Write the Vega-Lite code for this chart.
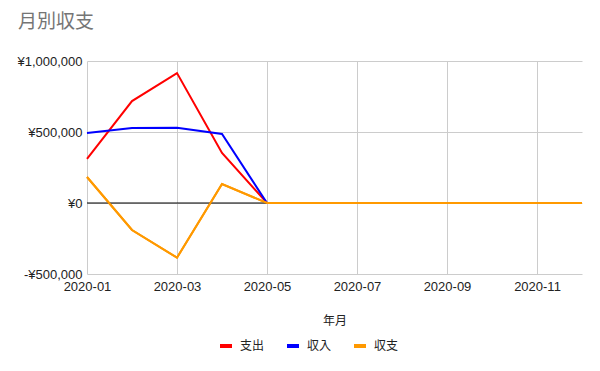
{
  "$schema": "https://vega.github.io/schema/vega-lite/v6.json",
  "autosize": {"type": "none"},
  "width": 495,
  "height": 213,
  "padding": {"left": 87, "top": 61, "right": 18, "bottom": 97},
  "background": "white",
  "config": {
    "view": {"stroke": null},
    "font": "Liberation Sans"
  },
  "title": {
    "text": "月別収支",
    "anchor": "start",
    "frame": "group",
    "dx": -69,
    "offset": 23,
    "font": "Noto Sans CJK JP",
    "fontSize": 19,
    "fontWeight": "normal",
    "color": "#757575"
  },
  "datasets": {
    "main": [
      {"month": "2020-01", "series": "支出", "value": 310000},
      {"month": "2020-02", "series": "支出", "value": 718000},
      {"month": "2020-03", "series": "支出", "value": 915000},
      {"month": "2020-04", "series": "支出", "value": 352000},
      {"month": "2020-05", "series": "支出", "value": 0},
      {"month": "2020-06", "series": "支出", "value": 0},
      {"month": "2020-07", "series": "支出", "value": 0},
      {"month": "2020-08", "series": "支出", "value": 0},
      {"month": "2020-09", "series": "支出", "value": 0},
      {"month": "2020-10", "series": "支出", "value": 0},
      {"month": "2020-11", "series": "支出", "value": 0},
      {"month": "2020-12", "series": "支出", "value": 0},
      {"month": "2020-01", "series": "収入", "value": 493000},
      {"month": "2020-02", "series": "収入", "value": 528000},
      {"month": "2020-03", "series": "収入", "value": 530000},
      {"month": "2020-04", "series": "収入", "value": 486000},
      {"month": "2020-05", "series": "収入", "value": 0},
      {"month": "2020-06", "series": "収入", "value": 0},
      {"month": "2020-07", "series": "収入", "value": 0},
      {"month": "2020-08", "series": "収入", "value": 0},
      {"month": "2020-09", "series": "収入", "value": 0},
      {"month": "2020-10", "series": "収入", "value": 0},
      {"month": "2020-11", "series": "収入", "value": 0},
      {"month": "2020-12", "series": "収入", "value": 0},
      {"month": "2020-01", "series": "収支", "value": 183000},
      {"month": "2020-02", "series": "収支", "value": -190000},
      {"month": "2020-03", "series": "収支", "value": -385000},
      {"month": "2020-04", "series": "収支", "value": 134000},
      {"month": "2020-05", "series": "収支", "value": 0},
      {"month": "2020-06", "series": "収支", "value": 0},
      {"month": "2020-07", "series": "収支", "value": 0},
      {"month": "2020-08", "series": "収支", "value": 0},
      {"month": "2020-09", "series": "収支", "value": 0},
      {"month": "2020-10", "series": "収支", "value": 0},
      {"month": "2020-11", "series": "収支", "value": 0},
      {"month": "2020-12", "series": "収支", "value": 0}
    ],
    "zero": [{"y": 0}]
  },
  "layer": [
    {
      "data": {"name": "main"},
      "mark": {"type": "line", "strokeWidth": 2, "interpolate": "linear"},
      "encoding": {
        "x": {
          "field": "month",
          "type": "ordinal",
          "sort": null,
          "scale": {"type": "point", "padding": 0},
          "axis": {
            "title": "年月",
            "titleFont": "Noto Sans CJK JP",
            "titleFontSize": 12,
            "titleFontWeight": "normal",
            "titleColor": "#222222",
            "titlePadding": 22,
            "values": ["2020-01", "2020-03", "2020-05", "2020-07", "2020-09", "2020-11"],
            "labelAngle": 0,
            "labelFontSize": 13,
            "labelColor": "#222222",
            "labelPadding": 6,
            "ticks": false,
            "domain": false,
            "grid": true,
            "gridColor": "#cccccc"
          }
        },
        "y": {
          "field": "value",
          "type": "quantitative",
          "scale": {"domain": [-500000, 1000000], "nice": false},
          "axis": {
            "title": null,
            "values": [-500000, 0, 500000, 1000000],
            "labelExpr": "datum.value < 0 ? '-¥' + format(-datum.value, ',') : '¥' + format(datum.value, ',')",
            "labelFontSize": 13,
            "labelColor": "#222222",
            "labelPadding": 5,
            "ticks": false,
            "domain": false,
            "grid": true,
            "gridColor": "#cccccc"
          }
        },
        "color": {
          "field": "series",
          "type": "nominal",
          "sort": ["支出", "収入", "収支"],
          "scale": {"domain": ["支出", "収入", "収支"], "range": ["#ff0000", "#0000ff", "#ff9900"]},
          "legend": {
            "title": null,
            "orient": "none",
            "direction": "horizontal",
            "legendX": 131,
            "legendY": 277,
            "symbolType": "stroke",
            "symbolSize": 144,
            "symbolStrokeWidth": 4,
            "labelFont": "Noto Sans CJK JP",
            "labelFontSize": 12,
            "labelColor": "#222222",
            "columnPadding": 14,
            "labelOffset": 6
          }
        },
        "order": {"field": "series"}
      }
    },
    {
      "data": {"name": "zero"},
      "mark": {"type": "rule", "color": "#000000", "strokeWidth": 1},
      "encoding": {"y": {"field": "y", "type": "quantitative"}}
    },
    {
      "data": {"name": "main"},
      "transform": [{"filter": "datum.series === '収支'"}],
      "mark": {"type": "line", "strokeWidth": 2, "color": "#ff9900"},
      "encoding": {
        "x": {"field": "month", "type": "ordinal", "sort": null},
        "y": {"field": "value", "type": "quantitative"}
      }
    }
  ]
}
